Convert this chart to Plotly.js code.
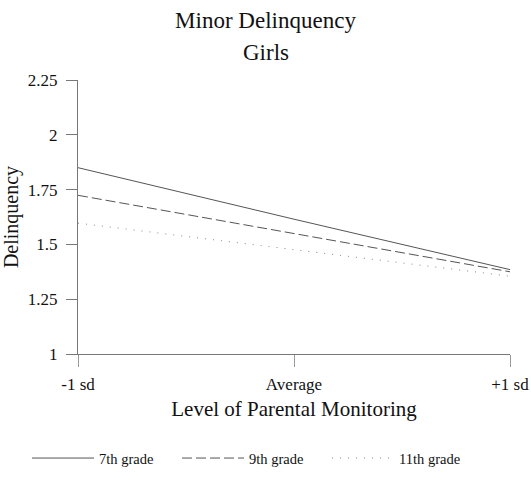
<!DOCTYPE html>
<html><head><meta charset="utf-8">
<script src="https://cdn.plot.ly/plotly-3.0.1.min.js"></script>
<style>body{margin:0;background:#fff}#chart{width:531px;height:486px}</style>
</head><body><div id="chart"></div>
<script>
const xLabels = ["-1 sd", "Average", "+1 sd"];
const xPos = [0, 1, 2];
const grade7 = [1.85, 1.615, 1.385];
const grade9 = [1.724, 1.55, 1.375];
const grade11 = [1.597, 1.475, 1.355];
const seriesNames = ["7th grade", "9th grade", "11th grade"];
const yTicks = [1, 1.25, 1.5, 1.75, 2, 2.25];
const yTickText = ["1", "1.25", "1.5", "1.75", "2", "2.25"];
const titleText = "Minor Delinquency";
const subtitleText = "Girls";

const font = "Liberation Serif, Times New Roman, serif";
const traces = [
  {x: xPos, y: grade7, name: seriesNames[0], mode: "lines", line: {color: "#555", width: 1, dash: "solid"}},
  {x: xPos, y: grade9, name: seriesNames[1], mode: "lines", line: {color: "#555", width: 1, dash: "10px,4px"}},
  {x: xPos, y: grade11, name: seriesNames[2], mode: "lines", line: {color: "#888", width: 1, dash: "1px,7px"}}
];
const layout = {
  width: 531, height: 486,
  margin: {l: 78, r: 21, t: 80, b: 122},
  paper_bgcolor: "#fff", plot_bgcolor: "#fff",
  font: {family: font, color: "#111", size: 17},
  title: {text: titleText, x: 0.5, xanchor: "center", yref: "container", y: 1 - 20/486, yanchor: "middle",
    font: {family: font, size: 23, color: "#111"}},
  annotations: [{text: subtitleText, xref: "paper", yref: "paper", x: (266 - 78) / 432, y: 1 + (80 - 52) / 284,
    xanchor: "center", yanchor: "middle", showarrow: false, font: {family: font, size: 23, color: "#111"}}],
  xaxis: {
    range: [0, 2], tickvals: xPos, ticktext: xLabels,
    showline: true, linecolor: "#777", linewidth: 1, ticks: "outside", ticklen: 12, tickcolor: "#999",
    showgrid: false, zeroline: false, tickfont: {size: 17, family: font}, ticklabelstandoff: 3,
    title: {text: "Level of Parental Monitoring", font: {size: 21, family: font}, standoff: 7}
  },
  yaxis: {
    range: [1, 2.25], tickvals: yTicks, ticktext: yTickText,
    showline: true, linecolor: "#777", linewidth: 1, ticks: "outside", ticklen: 11, tickcolor: "#777",
    showgrid: false, zeroline: false, tickfont: {size: 17, family: font}, ticklabelstandoff: 5,
    title: {text: "Delinquency", font: {size: 20, family: font}, standoff: 6}
  },
  showlegend: true,
  legend: {orientation: "h", x: -0.118, xanchor: "left", y: -0.38, yanchor: "middle",
    font: {size: 14.5, family: font}, itemwidth: 62, entrywidth: 73, entrywidthmode: "pixels",
    bgcolor: "rgba(0,0,0,0)"}
};
Plotly.newPlot("chart", traces, layout, {displayModeBar: false, staticPlot: true});
</script></body></html>
